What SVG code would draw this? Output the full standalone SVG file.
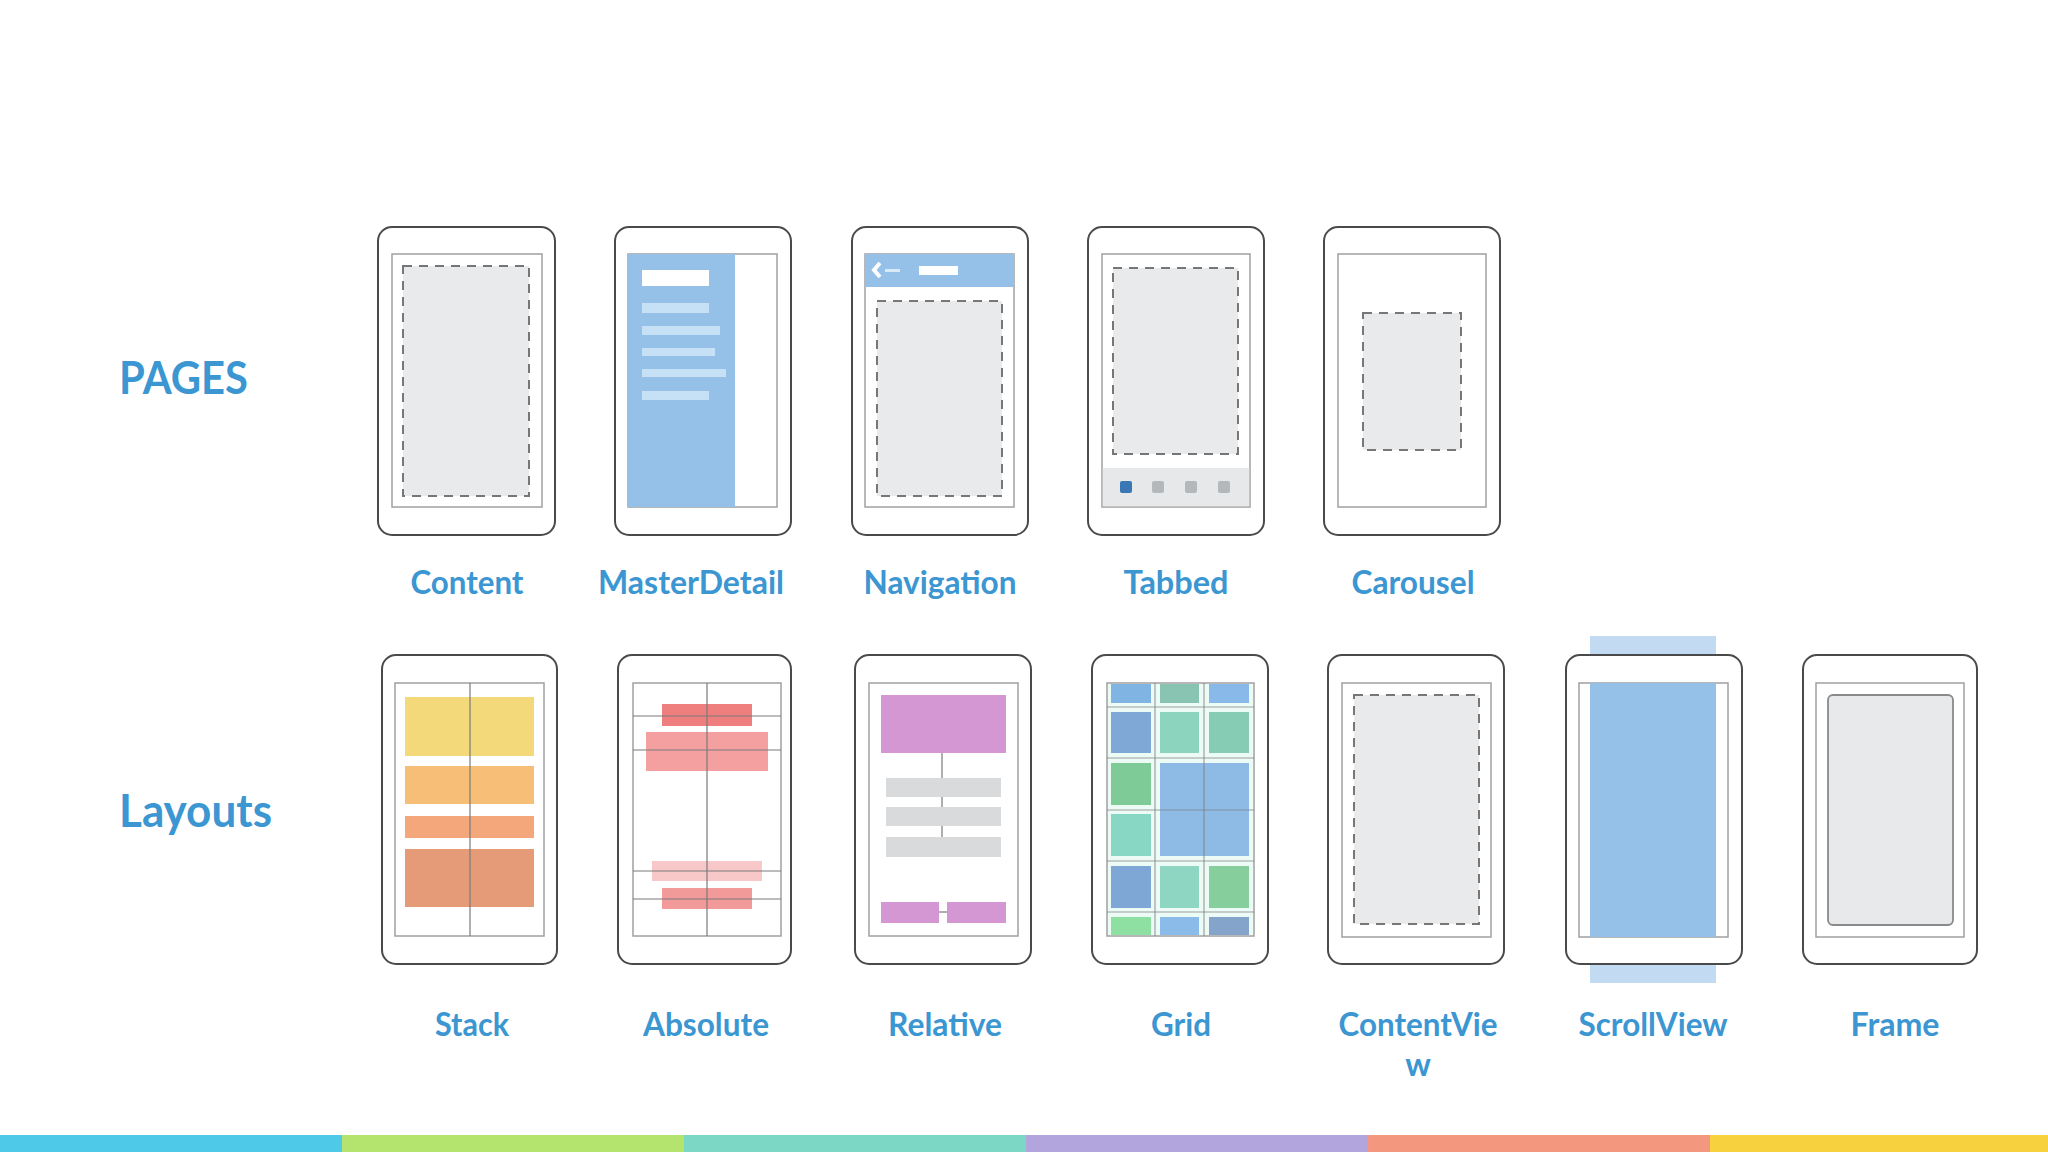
<svg xmlns="http://www.w3.org/2000/svg" width="2048" height="1152" viewBox="0 0 2048 1152">
<style>
.phone{fill:#fff;stroke:#4a4a4a;stroke-width:2}
.inner{fill:#fff;stroke:#a0a0a0;stroke-width:1.5}
.dash{fill:#e8eaeb;stroke:#777;stroke-width:2;stroke-dasharray:9 7}
.lbl{font-family:Lato,"Open Sans",sans-serif;font-weight:bold;font-size:32px;fill:#3b96d2;text-anchor:middle}
.head{font-family:Lato,"Open Sans",sans-serif;font-weight:bold;font-size:46px;fill:#3b96d2}
.gl{stroke:#7a7a7a;stroke-width:1.2;fill:none}
.blue{fill:#95c0e7}
.mline{fill:#c6e0f6}
</style>
<rect width="2048" height="1152" fill="#fff"/>

<text class="head" x="119" y="394" textLength="129" lengthAdjust="spacingAndGlyphs">PAGES</text>
<text class="head" x="119" y="827" textLength="153" lengthAdjust="spacingAndGlyphs">Layouts</text>

<!-- Pages row -->
<g id="content">
<rect class="phone" x="378" y="227" width="177" height="308" rx="14"/>
<rect class="inner" x="392" y="254" width="150" height="253"/>
<rect class="dash" x="403" y="266" width="126" height="230"/>
<text class="lbl" x="467" y="594" textLength="113" lengthAdjust="spacingAndGlyphs">Content</text>
</g>

<g id="masterdetail">
<rect class="phone" x="615" y="227" width="176" height="308" rx="14"/>
<rect class="inner" x="628" y="254" width="149" height="253"/>
<rect class="blue" x="628" y="254" width="107" height="253"/>
<rect x="642" y="270" width="67" height="16" fill="#fff"/>
<rect class="mline" x="642" y="303" width="67" height="10"/>
<rect class="mline" x="642" y="326" width="78" height="9"/>
<rect class="mline" x="642" y="348" width="73" height="8"/>
<rect class="mline" x="642" y="369" width="84" height="8"/>
<rect class="mline" x="642" y="391" width="67" height="9"/>
<text class="lbl" x="691" y="594" textLength="186" lengthAdjust="spacingAndGlyphs">MasterDetail</text>
</g>

<g id="navigation">
<rect class="phone" x="852" y="227" width="176" height="308" rx="14"/>
<rect class="inner" x="865" y="254" width="149" height="253"/>
<rect class="blue" x="865" y="254" width="149" height="33"/>
<path d="M880 263 L874 270 L880 277" fill="none" stroke="#fff" stroke-width="4"/>
<rect x="885" y="269" width="15" height="3" fill="#d8e9f8"/>
<rect x="919" y="266" width="39" height="9" fill="#fff"/>
<rect class="dash" x="877" y="301" width="125" height="195"/>
<text class="lbl" x="940" y="594" textLength="153" lengthAdjust="spacingAndGlyphs">Navigation</text>
</g>

<g id="tabbed">
<rect class="phone" x="1088" y="227" width="176" height="308" rx="14"/>
<rect class="inner" x="1102" y="254" width="148" height="253"/>
<rect x="1102.75" y="468" width="146.5" height="38.25" fill="#e6e8e9"/>
<rect class="dash" x="1113" y="268" width="125" height="186"/>
<rect x="1120" y="481" width="12" height="12" rx="2" fill="#3a78b5"/>
<rect x="1152" y="481" width="12" height="12" rx="2" fill="#b5b8ba"/>
<rect x="1185" y="481" width="12" height="12" rx="2" fill="#b5b8ba"/>
<rect x="1218" y="481" width="12" height="12" rx="2" fill="#b5b8ba"/>
<text class="lbl" x="1176" y="594" textLength="105" lengthAdjust="spacingAndGlyphs">Tabbed</text>
</g>

<g id="carousel">
<rect class="phone" x="1324" y="227" width="176" height="308" rx="14"/>
<rect class="inner" x="1338" y="254" width="148" height="253"/>
<rect class="dash" x="1363" y="313" width="98" height="137"/>
<text class="lbl" x="1413" y="594" textLength="123" lengthAdjust="spacingAndGlyphs">Carousel</text>
</g>

<!-- Layouts row -->
<g id="stack">
<rect class="phone" x="382" y="655" width="175" height="309" rx="14"/>
<rect class="inner" x="395" y="683" width="149" height="253"/>
<rect x="405" y="697" width="129" height="59" fill="#f3d97a"/>
<rect x="405" y="766" width="129" height="38" fill="#f6be76"/>
<rect x="405" y="816" width="129" height="22" fill="#f4a77a"/>
<rect x="405" y="849" width="129" height="58" fill="#e59a78"/>
<line class="gl" x1="470" y1="683" x2="470" y2="936"/>
<text class="lbl" x="472" y="1036" textLength="74" lengthAdjust="spacingAndGlyphs">Stack</text>
</g>

<g id="absolute">
<rect class="phone" x="618" y="655" width="173" height="309" rx="14"/>
<rect class="inner" x="633" y="683" width="148" height="253"/>
<rect x="662" y="704" width="90" height="22" fill="#ef7f7f"/>
<rect x="646" y="732" width="122" height="39" fill="#f4a0a0"/>
<rect x="652" y="861" width="110" height="20" fill="#f8c8c8"/>
<rect x="662" y="888" width="90" height="21" fill="#f29a9a"/>
<line class="gl" x1="707" y1="683" x2="707" y2="936"/>
<line class="gl" x1="633" y1="716" x2="781" y2="716"/>
<line class="gl" x1="633" y1="750" x2="781" y2="750"/>
<line class="gl" x1="633" y1="871" x2="781" y2="871"/>
<line class="gl" x1="633" y1="899" x2="781" y2="899"/>
<text class="lbl" x="706" y="1036" textLength="126" lengthAdjust="spacingAndGlyphs">Absolute</text>
</g>

<g id="relative">
<rect class="phone" x="855" y="655" width="176" height="309" rx="14"/>
<rect class="inner" x="869" y="683" width="149" height="253"/>
<rect x="881" y="695" width="125" height="58" fill="#d597d4"/>
<line class="gl" x1="942" y1="753" x2="942" y2="837"/>
<rect x="886" y="778" width="115" height="19" fill="#d9dadb"/>
<rect x="886" y="807" width="115" height="19" fill="#d9dadb"/>
<rect x="886" y="837" width="115" height="20" fill="#d9dadb"/>
<rect x="881" y="902" width="58" height="21" fill="#d597d4"/>
<rect x="947" y="902" width="59" height="21" fill="#d597d4"/>
<line class="gl" x1="939" y1="912" x2="947" y2="912"/>
<text class="lbl" x="945" y="1036" textLength="114" lengthAdjust="spacingAndGlyphs">Relative</text>
</g>

<g id="grid">
<rect class="phone" x="1092" y="655" width="176" height="309" rx="14"/>
<rect class="inner" x="1107" y="683" width="147" height="253"/>
<rect x="1108" y="684" width="145" height="251" fill="#ecfbf5"/>
<rect x="1111" y="684" width="40" height="19" fill="#80b5e3"/>
<rect x="1160" y="684" width="39" height="19" fill="#88c4b1"/>
<rect x="1209" y="684" width="40" height="19" fill="#89b9e8"/>
<rect x="1111" y="712" width="40" height="41" fill="#7fa8d7"/>
<rect x="1160" y="712" width="39" height="41" fill="#8dd4bf"/>
<rect x="1209" y="712" width="40" height="41" fill="#86cbb3"/>
<rect x="1111" y="763" width="40" height="42" fill="#7fcb98"/>
<rect x="1160" y="763" width="89" height="93" fill="#8ebbe6"/>
<rect x="1111" y="814" width="40" height="42" fill="#88d7c4"/>
<rect x="1111" y="866" width="40" height="42" fill="#7fa7d6"/>
<rect x="1160" y="866" width="39" height="42" fill="#8ed5c2"/>
<rect x="1209" y="866" width="40" height="42" fill="#86cf9c"/>
<rect x="1111" y="917" width="40" height="18" fill="#8de0a2"/>
<rect x="1160" y="917" width="39" height="18" fill="#8bbbe8"/>
<rect x="1209" y="917" width="40" height="18" fill="#85a4cc"/>
<g class="gl" stroke-opacity="0.7">
<line x1="1155" y1="683" x2="1155" y2="936"/>
<line x1="1204" y1="683" x2="1204" y2="936"/>
<line x1="1107" y1="707" x2="1254" y2="707"/>
<line x1="1107" y1="758" x2="1254" y2="758"/>
<line x1="1107" y1="810" x2="1254" y2="810"/>
<line x1="1107" y1="861" x2="1254" y2="861"/>
<line x1="1107" y1="912" x2="1254" y2="912"/>
</g>
<text class="lbl" x="1181" y="1036" textLength="60" lengthAdjust="spacingAndGlyphs">Grid</text>
</g>

<g id="contentview">
<rect class="phone" x="1328" y="655" width="176" height="309" rx="14"/>
<rect class="inner" x="1342" y="683" width="149" height="254"/>
<rect class="dash" x="1354" y="695" width="125" height="229"/>
<text class="lbl" x="1418" y="1036" textLength="159" lengthAdjust="spacingAndGlyphs">ContentVie</text>
<text class="lbl" x="1418" y="1076">w</text>
</g>

<g id="scrollview">
<rect x="1590" y="636" width="126" height="347" fill="#c2dbf3"/>
<rect class="phone" x="1566" y="655" width="176" height="309" rx="14"/>
<rect class="inner" x="1579" y="683" width="149" height="254"/>
<rect class="blue" x="1590" y="683" width="126" height="254"/>
<text class="lbl" x="1653" y="1036" textLength="149" lengthAdjust="spacingAndGlyphs">ScrollView</text>
</g>

<g id="frame">
<rect class="phone" x="1803" y="655" width="174" height="309" rx="14"/>
<rect class="inner" x="1816" y="683" width="148" height="254"/>
<rect x="1828" y="695" width="125" height="230" rx="5" fill="#e8e9ea" stroke="#8a8a8a" stroke-width="1.8"/>
<text class="lbl" x="1895" y="1036" textLength="89" lengthAdjust="spacingAndGlyphs">Frame</text>
</g>

<g id="connectors"></g>

<g id="footer-bar">
<rect x="0" y="1135" width="342" height="17" fill="#4fc9e8"/>
<rect x="342" y="1135" width="342" height="17" fill="#b4e46e"/>
<rect x="684" y="1135" width="342" height="17" fill="#7dd7c5"/>
<rect x="1026" y="1135" width="342" height="17" fill="#b2a4dd"/>
<rect x="1368" y="1135" width="342" height="17" fill="#f3977e"/>
<rect x="1710" y="1135" width="338" height="17" fill="#f8d13f"/>
</g>
</svg>
